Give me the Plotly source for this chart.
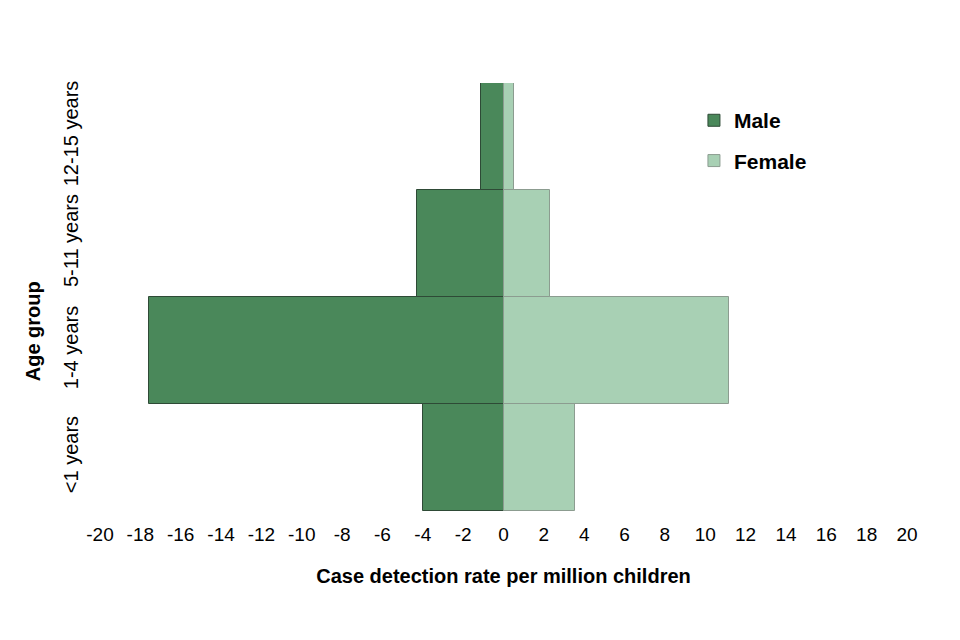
import plotly.graph_objects as go

age_groups = ["<1 years", "1-4 years", "5-11 years", "12-15 years"]
male = [-3.98, -17.55, -4.28, -1.12]
female = [3.52, 11.16, 2.28, 0.52]
x_ticks = list(range(-20, 21, 2))
x_labels = [str(v) for v in x_ticks]

font_name = "Liberation Sans, Arial, sans-serif"

fig = go.Figure()

fig.add_trace(go.Bar(
    y=age_groups, x=male, orientation="h", name="Male",
    legendgroup="m",
    marker=dict(color="#4a885a", line=dict(color="#2e4a36", width=1))))

fig.add_trace(go.Bar(
    y=age_groups, x=female, orientation="h", name="Female",
    legendgroup="f",
    marker=dict(color="#a8d0b4", line=dict(color="#8c9c90", width=1))))

fig.update_layout(
    width=960, height=640,
    barmode="relative",
    bargap=0,
    plot_bgcolor="white",
    paper_bgcolor="white",
    font=dict(family=font_name, size=19, color="black"),
    margin=dict(l=92, r=61, t=75, b=137),
    showlegend=True,
    legend=dict(x=0.736, y=0.96, xanchor="left", yanchor="top",
                traceorder="grouped", tracegroupgap=10,
                font=dict(size=21, family=font_name, weight="bold"),
                bgcolor="rgba(0,0,0,0)"),
)

# y title sits a bit below the middle in the original, so use an annotation
fig.add_annotation(
    text="<b>Age group</b>", textangle=-90,
    xref="paper", yref="paper", x=-0.083, y=0.42,
    xanchor="center", yanchor="middle", showarrow=False,
    font=dict(size=20))

fig.update_xaxes(
    range=[-20, 20],
    tickvals=x_ticks, ticktext=x_labels,
    showgrid=False, zeroline=False, showline=False,
    ticks="", tickfont=dict(size=19), ticklabelstandoff=10,
    title=dict(text="<b>Case detection rate per million children</b>",
               font=dict(size=20), standoff=24),
)

fig.update_yaxes(
    categoryorder="array", categoryarray=age_groups,
    tickangle=-90,
    showgrid=False, zeroline=False, showline=False,
    ticks="", tickfont=dict(size=20), ticklabelstandoff=17,
)

fig.write_html("out.html")
